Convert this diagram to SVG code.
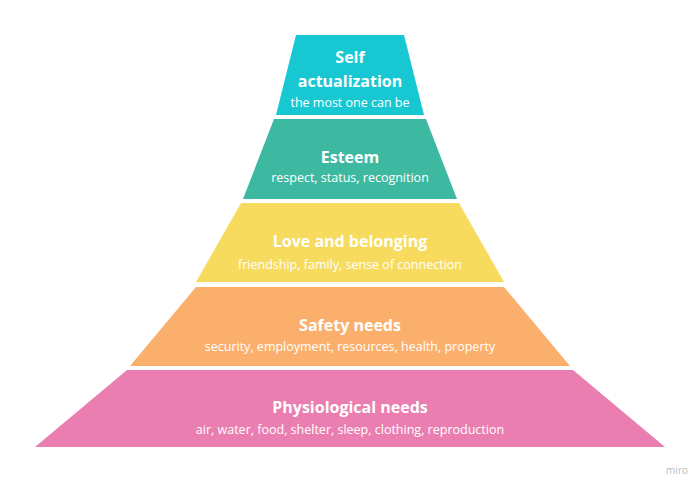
<svg xmlns="http://www.w3.org/2000/svg" width="700" height="492" viewBox="0 0 700 492">
<style>
.t{font-family:"Open Sans","Liberation Sans",sans-serif;font-weight:bold;font-size:16px;fill:#fff;text-anchor:middle}
.s{font-family:"Open Sans","Liberation Sans",sans-serif;font-size:12.5px;fill:#fff;text-anchor:middle}
</style>
<rect width="700" height="492" fill="#fff"/>
<g id="self"><polygon points="296,35 404,35 424,115 276,115" fill="#17C8D3"/>
<text class="t" x="350" y="63">Self</text><text class="t" x="350" y="87">actualization</text><text class="s" x="350" y="107">the most one can be</text></g>
<g id="esteem"><polygon points="274,119 426,119 457,199 243,199" fill="#3DB9A2"/>
<text class="t" x="350" y="163">Esteem</text><text class="s" x="350" y="182">respect, status, recognition</text></g>
<g id="love"><polygon points="241,203 459,203 504,282 196,282" fill="#F7DB5E"/>
<text class="t" x="350" y="247">Love and belonging</text><text class="s" x="350" y="269">friendship, family, sense of connection</text></g>
<g id="safety"><polygon points="196,287 504,287 570,366 130,366" fill="#FBAF6D"/>
<text class="t" x="350" y="331">Safety needs</text><text class="s" x="350" y="351">security, employment, resources, health, property</text></g>
<g id="physio"><polygon points="127,370 573,370 665,447 35,447" fill="#EA7EB0"/>
<text class="t" x="350" y="413">Physiological needs</text><text class="s" x="350" y="434">air, water, food, shelter, sleep, clothing, reproduction</text></g>
<g id="connectors"/>
<text x="688" y="474" font-family="'Open Sans','Liberation Sans',sans-serif" font-size="10" fill="#bbb" text-anchor="end">miro</text>
</svg>
